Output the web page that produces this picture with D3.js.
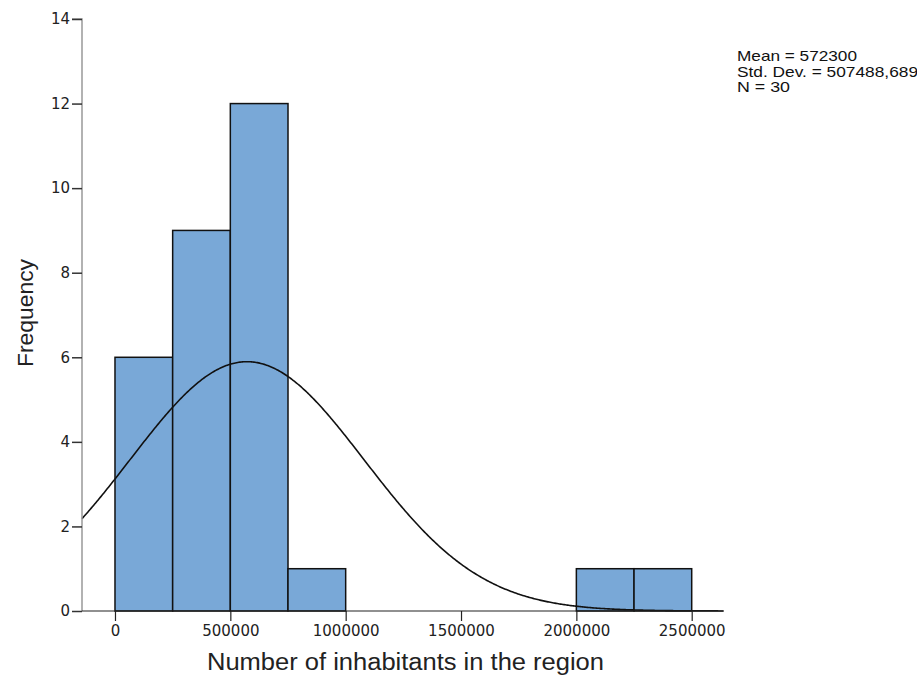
<!DOCTYPE html>
<html><head><meta charset="utf-8">
<script src="https://cdn.jsdelivr.net/npm/d3@7"></script>
<style>body{margin:0;background:#fff}</style>
</head><body>
<svg id="c" width="917" height="675"></svg>
<script>
const binStarts = [0, 250000, 500000, 750000, 2000000, 2250000];
const binWidth = 250000;
const counts = [6, 9, 12, 1, 1, 1];
const xTicks = [0, 500000, 1000000, 1500000, 2000000, 2500000];
const yTicks = [0, 2, 4, 6, 8, 10, 12, 14];
const statsLines = ["Mean = 572300", "Std. Dev. = 507488,689", "N = 30"];
const mean = 572300, sd = 507488.689, n = 30;

const svg = d3.select("#c");
const x = d3.scaleLinear().domain([-143000, 2640000]).range([82, 724]);
const y = d3.scaleLinear().domain([0, 14]).range([611, 19]);

// bars
svg.append("g").selectAll("rect").data(binStarts).join("rect")
  .attr("x", (d) => x(d)).attr("width", (d) => x(d + binWidth) - x(d))
  .attr("y", (d, i) => y(counts[i])).attr("height", (d, i) => y(0) - y(counts[i]))
  .attr("fill", "#79a8d7").attr("stroke", "#111").attr("stroke-width", 1.5);

// normal curve
const xs = d3.range(-143000, 2640001, 5000);
const dens = (v) => n * binWidth / (sd * Math.sqrt(2 * Math.PI)) * Math.exp(-0.5 * ((v - mean) / sd) ** 2);
svg.append("path").datum(xs)
  .attr("d", d3.line().x((d) => x(d)).y((d) => y(dens(d))))
  .attr("fill", "none").attr("stroke", "#111").attr("stroke-width", 1.6);

// axes
const yAxis = svg.append("g").attr("transform", "translate(82,0)")
  .call(d3.axisLeft(y).tickValues(yTicks).tickSize(10).tickPadding(2).tickFormat(d3.format("d")));
const xAxis = svg.append("g").attr("transform", "translate(0,611)")
  .call(d3.axisBottom(x).tickValues(xTicks).tickSize(10).tickPadding(4).tickFormat(d3.format("d")));
yAxis.select(".domain").attr("d", "M-10,19H0V611").attr("stroke", "#999").attr("stroke-width", 1.5);
xAxis.select(".domain").attr("d", "M82,0H724").attr("stroke", "#222").attr("stroke-width", 1.2);
yAxis.selectAll(".tick line").attr("stroke", "#333").attr("stroke-width", 1.5);
xAxis.selectAll(".tick line").attr("stroke", "#222").attr("stroke-width", 1.2);
[yAxis, xAxis].forEach((a) => a.selectAll("text")
  .attr("font-family", "DejaVu Sans").attr("font-size", 15).attr("fill", "#222"));

// axis titles
svg.append("text").attr("x", 207).attr("y", 670)
  .attr("font-family", "Liberation Sans, Arial").attr("font-size", 23).attr("fill", "#222")
  .attr("textLength", 397).attr("lengthAdjust", "spacingAndGlyphs")
  .text("Number of inhabitants in the region");
svg.append("text").attr("transform", "translate(33,367) rotate(-90)")
  .attr("font-family", "Liberation Sans, Arial").attr("font-size", 22).attr("fill", "#222")
  .attr("textLength", 108).attr("lengthAdjust", "spacingAndGlyphs")
  .text("Frequency");

// stats
const statWidths = [120, 181, 53];
svg.append("g").selectAll("text").data(statsLines).join("text")
  .attr("x", 737).attr("y", (d, i) => 61 + i * 15.5)
  .attr("font-family", "Liberation Sans, Arial").attr("font-size", 15).attr("fill", "#111")
  .attr("textLength", (d, i) => statWidths[i]).attr("lengthAdjust", "spacingAndGlyphs")
  .text((d) => d);
</script>
</body></html>
